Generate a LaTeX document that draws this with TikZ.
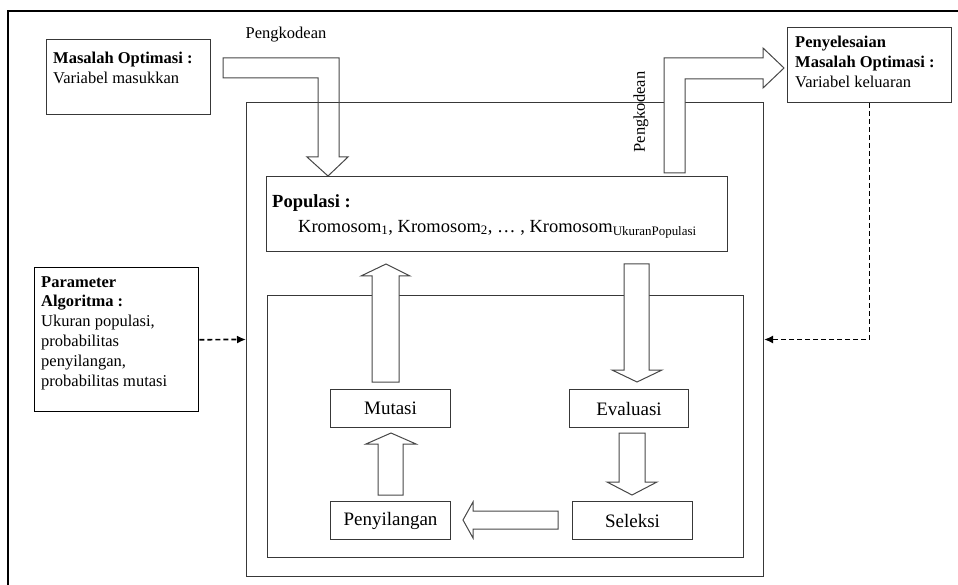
\documentclass[tikz,border=0pt]{standalone}
\usepackage{fontspec}
\setmainfont{Liberation Serif}
\usetikzlibrary{arrows.meta}
\tikzset{
  box/.style={draw=black!78, line width=1pt, anchor=north west, inner sep=0pt},
  blockarrow/.style={draw=black!72, line width=1pt, line join=miter},
  txt/.style={inner sep=0pt, align=left, anchor=north west},
  dasharrow/.style={draw=black, line width=1.7pt, dash pattern=on 5pt off 3pt, -{Latex[length=9pt,width=8pt]}},
}
\newcommand{\fsA}{\fontsize{16.5}{19.8}\selectfont}
\newcommand{\fsB}{\fontsize{18.5}{22}\selectfont}
\begin{document}
\begin{tikzpicture}[x=1pt,y=-1pt]
\useasboundingbox (0,0) rectangle (958,585);
% outer frame
\draw[line width=1.8pt] (8,585) -- (8,11) -- (958,11);
% main boxes
\node[box, minimum width=517, minimum height=474] (outer) at (246,102) {};
\node[box, minimum width=476, minimum height=262] (inner) at (267,295) {};
\node[box, minimum width=461, minimum height=75] (pop) at (266,176) {};
% side boxes
\node[box, minimum width=164, minimum height=75] (masalah) at (46,39) {};
\node[box, draw=black, line width=1.4pt, minimum width=164, minimum height=144] (param) at (34,267) {};
\node[box, minimum width=164, minimum height=75] (peny) at (787,27) {};
% process boxes
\node[box, minimum width=120, minimum height=38] (mutasi) at (330,389) {};
\node[box, minimum width=120, minimum height=38] (penyil) at (330,501) {};
\node[box, minimum width=119, minimum height=38] (eval) at (569,389) {};
\node[box, minimum width=120, minimum height=38] (seleksi) at (572,501) {};
\node[font=\fontsize{19}{22}\selectfont] (tm) at (mutasi.center) {Mutasi};
\node[font=\fontsize{19}{22}\selectfont] (tp) at (penyil.center) {Penyilangan};
\node[font=\fontsize{19}{22}\selectfont] (te) at (eval.center) {Evaluasi};
\node[font=\fontsize{19}{22}\selectfont] (ts) at (seleksi.center) {Seleksi};
% texts
\node[txt, font=\fsA] (tmas) at (53,52) {\textbf{Masalah Optimasi :}\\Variabel masukkan};
\node[txt, font=\fsA] (tpeny) at (795,36) {\textbf{Penyelesaian}\\\textbf{Masalah Optimasi :}\\Variabel keluaran};
\node[txt, font=\fsA] (tpar) at (41,276) {\textbf{Parameter}\\\textbf{Algoritma :}\\Ukuran populasi,\\probabilitas\\penyilangan,\\probabilitas mutasi};
\node[inner sep=0pt, anchor=west, font=\fsB\bfseries] (tpop) at (272,203) {Populasi :};
\node[inner sep=0pt, anchor=west, font=\fsB] (tkrom) at (298,229) {Kromosom\textsubscript{1}, Kromosom\textsubscript{2}, … , Kromosom\textsubscript{UkuranPopulasi}};
\node[inner sep=0pt, font=\fsA] (tenc1) at (286,35) {Pengkodean};
% block arrows
\draw[blockarrow] (223,58) -- (339,58) -- (339,157) -- (348,157) -- (328,176) -- (307,157) -- (318,157) -- (318,78) -- (223,78) -- cycle;
\draw[blockarrow, fill=white] (664,173) -- (664,58) -- (763,58) -- (763,48) -- (784,68) -- (763,88) -- (763,79) -- (685,79) -- (685,173) -- cycle;
\draw[blockarrow, fill=white] (624,264) -- (649,264) -- (649,370) -- (662,370) -- (637,382) -- (612,370) -- (624,370) -- cycle;
\draw[blockarrow, fill=white] (619,433) -- (645,433) -- (645,482) -- (657,482) -- (632,495) -- (607,482) -- (619,482) -- cycle;
\draw[blockarrow, fill=white] (558,511) -- (558,529) -- (473,529) -- (473,538) -- (463,520) -- (473,502) -- (473,511) -- cycle;
\draw[blockarrow, fill=white] (378,495) -- (403,495) -- (403,444) -- (416,444) -- (391,433) -- (366,444) -- (378,444) -- cycle;
\draw[blockarrow, fill=white] (372,382) -- (399,382) -- (399,276) -- (410,276) -- (386,264) -- (361,276) -- (372,276) -- cycle;
\node[inner sep=0pt, rotate=90, font=\fsA] (tenc2) at (641,112) {Pengkodean};
% dashed connectors
\draw[dasharrow] (param.east) -- (outer.west);
\draw[dasharrow] (peny.south) |- (outer.east);
\end{tikzpicture}
\end{document}
